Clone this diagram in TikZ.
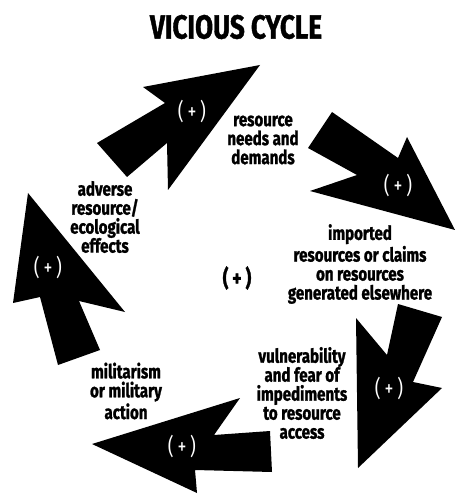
\documentclass[tikz,border=0pt]{standalone}
\usepackage{fontspec}
\usepackage{tikz}
\usetikzlibrary{positioning,calc}
\newfontfamily\cyclefont[FakeStretch=0.78,BoldFeatures={FakeBold=1.2}]{Fira Sans}

\begin{document}
\begin{tikzpicture}[
  x=0.02cm,y=-0.02cm,
  lbl/.style={font=\cyclefont\bfseries\fontsize{11}{10.8}\selectfont,
              align=center,inner sep=0pt},
  sign/.style={font=\cyclefont\fontsize{13}{13}\selectfont,inner sep=0pt},
  fatarrow/.style={fill=black}]
\useasboundingbox (0,0) rectangle (457,496);
\node[font=\cyclefont\bfseries\fontsize{19}{19}\selectfont] (title) at (236,27) {VICIOUS CYCLE};
% the five arrows, clockwise from the top
\fill[fatarrow] (260,65) -- (168,190) -- (167,143) -- (127,177) -- (97,143)
  -- (165,103) -- (143,87) -- cycle;
\fill[fatarrow] (455,230) -- (310,191) -- (357,175) -- (308,148) -- (332,112)
  -- (398,158) -- (407,137) -- cycle;
\fill[fatarrow] (358,468) -- (356,318) -- (387,355) -- (398,304) -- (442,317)
  -- (413,382) -- (442,388) -- cycle;
\fill[fatarrow] (92,444) -- (240,398) -- (214,435) -- (270,431) -- (272,472)
  -- (195,470) -- (197,493) -- cycle;
\fill[fatarrow] (28,193) -- (125,312) -- (79,301) -- (100,350) -- (58,365)
  -- (40,297) -- (13,303) -- cycle;
\node[sign,white] (p1) at (192,112) {(\,+\,)};
\node[sign,white] (p2) at (398,186) {(\,+\,)};
\node[sign,white] (p3) at (389,389) {(\,+\,)};
\node[sign,white] (p4) at (182,447) {(\,+\,)};
\node[sign,white] (p5) at (48,268) {(\,+\,)};
\node[sign,font=\cyclefont\bfseries\fontsize{13}{13}\selectfont] (mid) at (237,278) {(\,+\,)};
% labels between the arrows
\node[lbl] (needs) at (263,140) {resource\\needs and\\demands};
\node[lbl] (imported) at (360,264) {imported\\resources or claims\\on resources\\generated elsewhere};
\node[lbl] (fear) at (302,393) {vulnerability\\and fear of\\impediments\\to resource\\access};
\node[lbl] (military) at (126,391) {militarism\\or military\\action};
\node[lbl] (adverse) at (105,217) {adverse\\resource/\\ecological\\effects};
\end{tikzpicture}
\end{document}
